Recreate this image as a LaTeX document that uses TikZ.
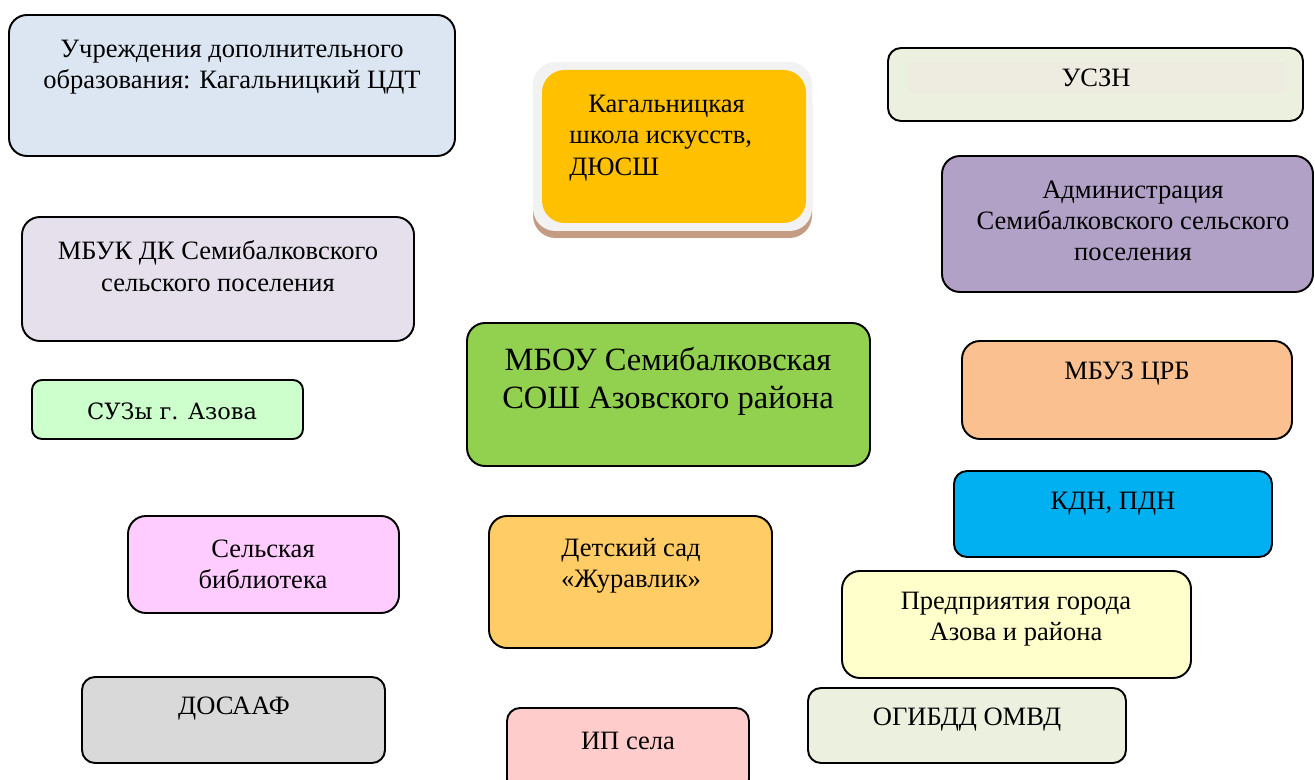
\documentclass[tikz,border=0pt]{standalone}
\usepackage{fontspec}
\setmainfont{Liberation Serif}
\newfontfamily\suzfont{DejaVu Serif}
\usetikzlibrary{fit}
\definecolor{cBlue}{HTML}{DCE6F2}
\definecolor{cGold}{HTML}{FFC000}
\definecolor{cFrame}{HTML}{F2F2F2}
\definecolor{cBrown}{HTML}{C49C84}
\definecolor{cUszn}{HTML}{EBF1DE}
\definecolor{cUsznIn}{HTML}{EEECE1}
\definecolor{cAdm}{HTML}{B2A1C7}
\definecolor{cMbuk}{HTML}{E5E0EC}
\definecolor{cSuz}{HTML}{CCFFCC}
\definecolor{cMain}{HTML}{92D050}
\definecolor{cMbuz}{HTML}{FAC090}
\definecolor{cKdn}{HTML}{00B0F0}
\definecolor{cLib}{HTML}{FFCCFF}
\definecolor{cSad}{HTML}{FFCC66}
\definecolor{cPred}{HTML}{FFFFCC}
\definecolor{cDos}{HTML}{D9D9D9}
\definecolor{cIp}{HTML}{FFCCCC}
\begin{document}
\begin{tikzpicture}[x=0.02cm,y=-0.02cm,
  box/.style={draw=black, line width=1.1pt, rounded corners=0.36cm, inner sep=0pt},
  sbox/.style={box, rounded corners=0.26cm},
  txt/.style={align=center, font=\fontsize{15.1}{17.8}\selectfont, inner sep=0pt},
  bigtxt/.style={align=center, font=\fontsize{18.5}{21.8}\selectfont, inner sep=0pt}]
\useasboundingbox (0,0) rectangle (1315,780);
\fill[white] (0,0) rectangle (1315,780);

% Учреждения
\node (b1) [box, fill=cBlue, fit={(9,15)(455,156)}] {};
\node (t1) at (232,67) [txt] {Учреждения дополнительного\\образования: Кагальницкий ЦДТ};

% Кагальницкая школа искусств
\node (b2s) [fill=cBrown, rounded corners=0.45cm, inner sep=0pt, fit={(533,80)(812,238)}] {};
\node (b2f) [fill=cFrame, rounded corners=0.45cm, inner sep=0pt, fit={(533,62)(812,231)}] {};
\node (b2) [fill=cGold, rounded corners=0.45cm, inner sep=0pt, fit={(542,70)(806,223)}] {};
\node (t2) at (569,138) [txt, align=left, anchor=west] {\hspace*{0.38cm}Кагальницкая\\школа искусств,\\ДЮСШ};

% УСЗН
\node (b3) [sbox, fill=cUszn, fit={(888,48)(1303,121)}] {};
\node (b3i) [fill=cUsznIn, inner sep=0pt, fit={(908,62)(1285,93)}] {};
\node (t3) at (1096,78) [txt] {УСЗН};

% Администрация
\node (b4) [box, fill=cAdm, fit={(942,156)(1313,292)}] {};
\node (t4) at (1133,221) [txt] {Администрация\\Семибалковского сельского\\поселения};

% МБУК ДК
\node (b5) [box, fill=cMbuk, fit={(22,217)(414,341)}] {};
\node (t5) at (218,266) [txt] {МБУК ДК Семибалковского\\сельского поселения};

% СУЗы
\node (b6) [sbox, rounded corners=0.2cm, fill=cSuz, fit={(32,380)(303,439)}] {};
\node (t6) at (172,411) [inner sep=0pt, font=\suzfont\fontsize{12.8}{15}\selectfont] {СУЗы г. Азова};

% МБОУ
\node (b7) [box, fill=cMain, fit={(467,323)(870,466)}] {};
\node (t7) at (668,381) [bigtxt] {МБОУ Семибалковская\\СОШ Азовского района};

% МБУЗ ЦРБ
\node (b8) [box, fill=cMbuz, fit={(962,341)(1292,439)}] {};
\node (t8) at (1127,374) [txt] {МБУЗ ЦРБ};

% КДН, ПДН
\node (b9) [sbox, fill=cKdn, fit={(954,471)(1272,557)}] {};
\node (t9) at (1113,504) [txt] {КДН, ПДН};

% Сельская библиотека
\node (b10) [box, fill=cLib, fit={(128,516)(399,613)}] {};
\node (t10) at (263,564) [txt] {Сельская\\библиотека};

% Детский сад
\node (b11) [box, fill=cSad, fit={(489,516)(772,648)}] {};
\node (t11) at (631,566) [txt] {Детский сад\\«Журавлик»};

% Предприятия
\node (b12) [box, fill=cPred, fit={(842,571)(1191,678)}] {};
\node (t12) at (1016,619) [txt] {Предприятия города\\Азова и района};

% ДОСААФ
\node (b13) [sbox, fill=cDos, fit={(82,677)(385,763)}] {};
\node (t13) at (234,709) [txt] {ДОСААФ};

% ИП села
\node (b14) [sbox, fill=cIp, fit={(507,708)(749,792)}] {};
\node (t14) at (628,741) [txt] {ИП села};

% ОГИБДД ОМВД
\node (b15) [sbox, fill=cUszn, fit={(808,688)(1126,763)}] {};
\node (t15) at (967,720) [txt] {ОГИБДД ОМВД};
\end{tikzpicture}
\end{document}
